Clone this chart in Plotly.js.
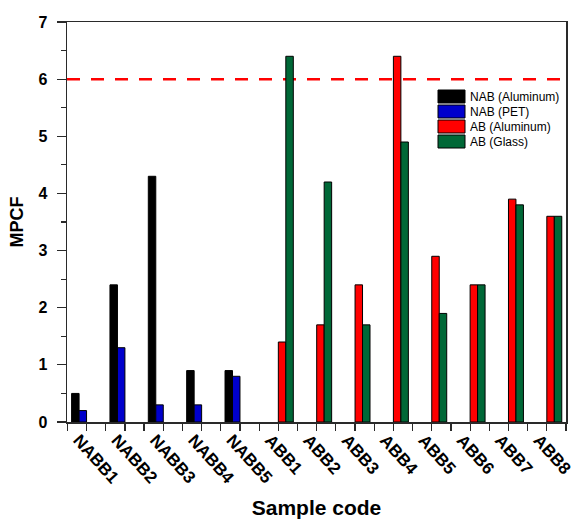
<!DOCTYPE html>
<html>
<head>
<meta charset="utf-8">
<script src="https://cdn.plot.ly/plotly-3.0.1.min.js"></script>
<style>html,body{margin:0;padding:0;background:#fff}#chart{width:575px;height:519px}</style>
</head>
<body>
<div id="chart"></div>
<script>
const categories = ["NABB1","NABB2","NABB3","NABB4","NABB5","ABB1","ABB2","ABB3","ABB4","ABB5","ABB6","ABB7","ABB8"];
const nabAluminum = [0.5, 2.4, 4.3, 0.9, 0.9, null, null, null, null, null, null, null, null];
const nabPET      = [0.2, 1.3, 0.3, 0.3, 0.8, null, null, null, null, null, null, null, null];
const abAluminum  = [null, null, null, null, null, 1.4, 1.7, 2.4, 6.4, 2.9, 2.4, 3.9, 3.6];
const abGlass     = [null, null, null, null, null, 6.4, 4.2, 1.7, 4.9, 1.9, 2.4, 3.8, 3.6];
const seriesNames = ["NAB (Aluminum)", "NAB (PET)", "AB (Aluminum)", "AB (Glass)"];
const limitValue = 6;
const yTicks = [0,1,2,3,4,5,6,7];

const xPos = categories.map((c, i) => i + 1);
const colors = ["#000000", "#0000CC", "#FF0000", "#006837"];
const font = "Arial, 'Liberation Sans', sans-serif";
const axisColor = "#2a2a2a";

const data = [nabAluminum, nabPET, abAluminum, abGlass].map((vals, k) => ({
  type: "bar",
  x: xPos,
  y: vals,
  name: seriesNames[k],
  showlegend: false,
  marker: {color: colors[k], line: {color: "#000000", width: 1}},
  hoverinfo: "x+y"
}));

// Plot area in pixels (for a box-style legend inside the frame)
const plotL = 67, plotR = 566, plotT = 22, plotB = 422;
const px2x = p => (p - plotL) / (plotR - plotL);
const px2y = p => (plotB - p) / (plotB - plotT);

const shapes = [{
  type: "line", xref: "paper", x0: 0, x1: 1, yref: "y", y0: limitValue, y1: limitValue,
  line: {color: "#FF0000", width: 2.5, dash: "13px,11px"}, layer: "below"
}];
const annotations = [];
seriesNames.forEach((name, k) => {
  const top = 90 + 15 * k;
  shapes.push({
    type: "rect", xref: "paper", yref: "paper",
    x0: px2x(438), x1: px2x(465), y0: px2y(top + 13), y1: px2y(top),
    fillcolor: colors[k], line: {color: "#000", width: 1}, layer: "above"
  });
  annotations.push({
    xref: "paper", yref: "paper", x: px2x(468), y: px2y(top + 6.5),
    xanchor: "left", yanchor: "middle", showarrow: false,
    text: name, font: {family: font, size: 12, color: "#000"}
  });
});

// tick marks at category centres and boundaries; labels set slightly left (rotated-text anchor)
const tickMarks = [];
for (let i = 0; i <= categories.length * 2; i++) tickMarks.push(0.5 + i / 2);

const layout = {
  width: 575, height: 519,
  margin: {l: plotL, r: 575 - plotR, t: plotT, b: 519 - plotB},
  paper_bgcolor: "#fff", plot_bgcolor: "#fff",
  barmode: "group", bargap: 0.22, bargroupgap: 0,
  font: {family: font, color: "#000"},
  showlegend: false,
  xaxis: {
    range: [0.49, 13.5],
    tickmode: "array", tickvals: xPos.map(v => v - 0.21), ticktext: categories,
    tickangle: 48, ticklabeloverflow: "allow",
    ticks: "",
    minor: {tickmode: "array", tickvals: tickMarks, ticks: "outside", ticklen: 7, tickwidth: 1.2, tickcolor: axisColor},
    tickfont: {family: font, size: 17, color: "#000", weight: "bold"},
    showline: true, linecolor: axisColor, linewidth: 1.5, mirror: true,
    showgrid: false, zeroline: false,
    title: {text: "<b>Sample code</b>", font: {family: font, size: 21, color: "#000"}, standoff: 14}
  },
  yaxis: {
    range: [0, 7],
    tickmode: "array", tickvals: yTicks,
    ticks: "outside", ticklen: 9, tickwidth: 1.2, tickcolor: axisColor,
    minor: {dtick: 0.5, tick0: 0, ticks: "outside", ticklen: 5, tickwidth: 1.2, tickcolor: axisColor},
    tickfont: {family: font, size: 16, color: "#000", weight: "bold"},
    ticklabelstandoff: 6,
    showline: true, linecolor: axisColor, linewidth: 1.5, mirror: true,
    showgrid: false, zeroline: false,
    title: {text: "<b>MPCF</b>", font: {family: font, size: 18, color: "#000"}, standoff: 10}
  },
  shapes: shapes,
  annotations: annotations
};

Plotly.newPlot("chart", data, layout, {displayModeBar: false, staticPlot: true});
</script>
</body>
</html>
